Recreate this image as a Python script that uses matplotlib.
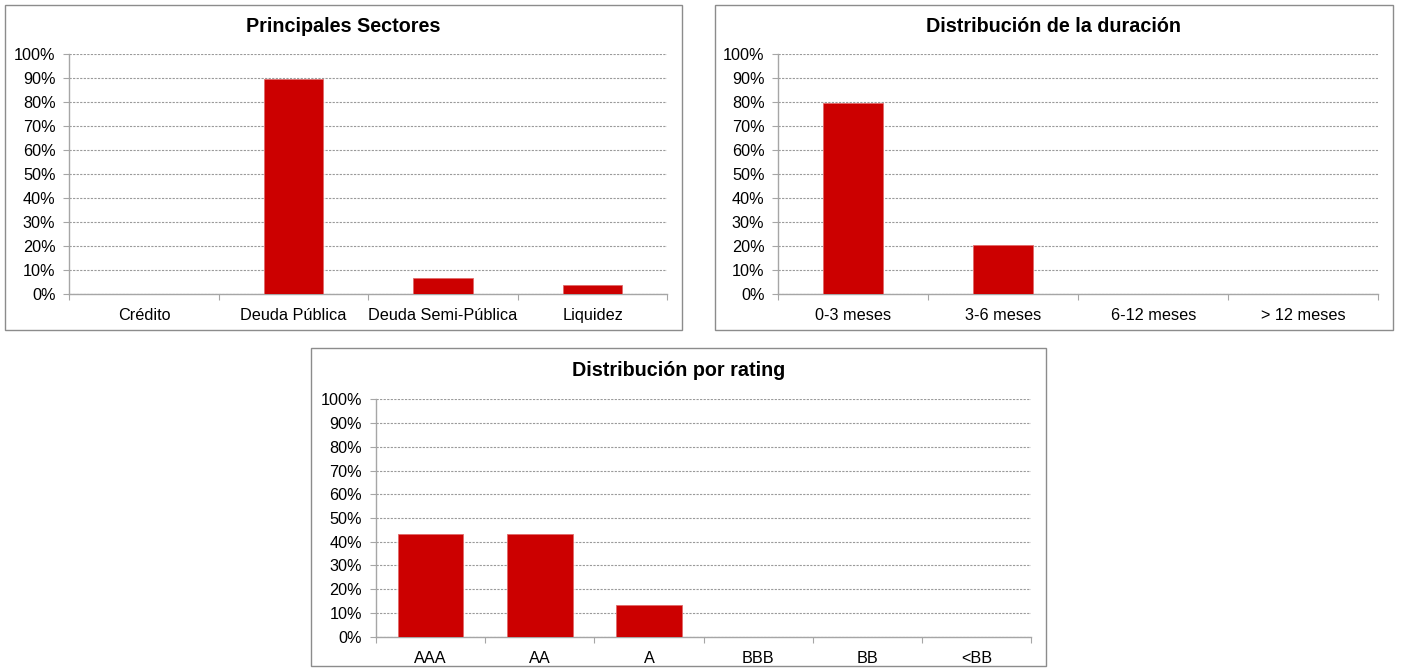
import matplotlib
matplotlib.use('Agg')
import matplotlib.pyplot as plt
from matplotlib.patches import Rectangle
from matplotlib.ticker import FixedLocator, PercentFormatter

plt.rcParams['font.family'] = ['Liberation Sans', 'DejaVu Sans']

# DATA
sector_labels = ['Crédito', 'Deuda Pública', 'Deuda Semi-Pública', 'Liquidez']
sector_values = [0.0, 89.5, 6.7, 3.8]

duration_labels = ['0-3 meses', '3-6 meses', '6-12 meses', '> 12 meses']
duration_values = [79.8, 20.2, 0.0, 0.0]

rating_labels = ['AAA', 'AA', 'A', 'BBB', 'BB', '<BB']
rating_values = [43.1, 43.3, 13.5, 0.0, 0.0, 0.0]

W, H = 1403, 672
BAR_COLOR = '#cc0000'
GRID_COLOR = '#9a9a9a'
AXIS_COLOR = '#a6a6a6'
BOX_COLOR = '#8c8c8c'

fig = plt.figure(figsize=(W / 100, H / 100), dpi=100)


def px_rect(x0, y0, x1, y1):
    # pixel box (top-left origin) -> figure fraction rect
    return [x0 / W, 1 - y1 / H, (x1 - x0) / W, (y1 - y0) / H]


def panel(box, axbox, title, title_y, labels, values, width):
    bx0, by0, bx1, by1 = box
    fig.patches.append(Rectangle((bx0 / W, 1 - by1 / H), (bx1 - bx0) / W, (by1 - by0) / H,
                                 transform=fig.transFigure, fill=False,
                                 edgecolor=BOX_COLOR, linewidth=1.0))
    fig.text((bx0 + bx1) / 2 / W, 1 - title_y / H, title, ha='center', va='center',
             fontsize=14.2, fontweight='bold')

    ax = fig.add_axes(px_rect(*axbox))
    n = len(labels)
    x = list(range(n))
    ax.bar(x, values, width=width, color=BAR_COLOR, edgecolor='#e06a6a',
           linewidth=0.6, zorder=3)
    ax.set_xlim(-0.5, n - 0.5)
    ax.set_ylim(0, 100)
    ax.set_yticks(range(0, 101, 10))
    ax.yaxis.set_major_formatter(PercentFormatter(decimals=0))
    ax.grid(axis='y', color=GRID_COLOR, linestyle=(0, (2, 1.2)), linewidth=0.8, zorder=0)

    # ticks at category borders, labels centred on categories
    ax.xaxis.set_major_locator(FixedLocator([i - 0.5 for i in range(n + 1)]))
    ax.xaxis.set_minor_locator(FixedLocator(x))
    ax.set_xticklabels([''] * (n + 1))
    ax.set_xticklabels(labels, minor=True)
    ax.tick_params(axis='x', which='major', length=4, color=AXIS_COLOR, direction='out')
    ax.tick_params(axis='x', which='minor', length=0, pad=10, labelsize=11.7)
    ax.tick_params(axis='y', length=4, color=AXIS_COLOR, direction='out', pad=6,
                   labelsize=11.7)

    for side in ['top', 'right']:
        ax.spines[side].set_visible(False)
    for side in ['left', 'bottom']:
        ax.spines[side].set_color(AXIS_COLOR)
        ax.spines[side].set_linewidth(1.0)
    return ax


panel((5, 5, 682, 330), (69.3, 54.3, 667.3, 293.7), 'Principales Sectores', 27,
      sector_labels, sector_values, 0.4)
panel((714.7, 5, 1393, 330), (778.3, 54.3, 1378.3, 293.7), 'Distribución de la duración', 27,
      duration_labels, duration_values, 0.4)
panel((311.3, 348.3, 1046, 666), (376, 399.3, 1031, 636.7), 'Distribución por rating', 370,
      rating_labels, rating_values, 0.6)

fig.savefig('out.png', dpi=100)
